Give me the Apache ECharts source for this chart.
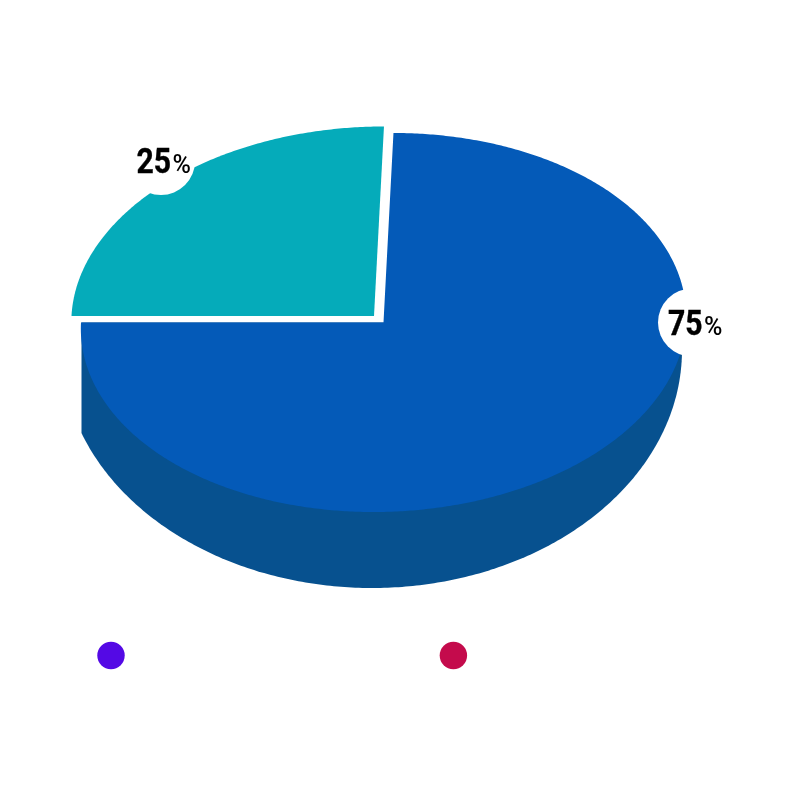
<!DOCTYPE html>
<html>
<head>
<meta charset="utf-8">
<style>html,body{margin:0;padding:0;background:#fff}#chart{width:800px;height:800px}</style>
<script src="https://cdn.jsdelivr.net/npm/echarts@6/dist/echarts.min.js"></script>
</head>
<body>
<div id="chart"></div>
<script>
// Data
const categories = ['Larger share', 'Smaller share'];
const shareValues = [75, 25];
const sliceColors = ['#045AB8', '#05ABBA'];
const legendColors = ['#5409E5', '#C40B4C'];

// Layout of the tilted disc
const TOP = { cx: 383.5, cy: 322.5, rx: 302.5, ry: 189.5, shear: 0.0526 };
const EXPLODE = [[0, 0], [-9.5, -6.5]];
const BASE = { cx: 372, cy: 350, rx: 310, ry: 238, left: 81.5, right: 682, color: '#07518F' };
const LABEL_HOLES = [{ x: 692, y: 322.5, r: 34, tx: 702.5, ty: 326 }, { x: 161, y: 161, r: 34, tx: 171, ty: 164 }];
const LEGEND_DOTS = [{ x: 111, y: 655.5, r: 13.7 }, { x: 453.4, y: 655.5, r: 13.7 }];

const total = shareValues.reduce((a, b) => a + b, 0);

function discPoint(cx, cy, deg) {
  const t = deg * Math.PI / 180;
  return [
    cx + TOP.rx * Math.sin(t) + TOP.shear * TOP.ry * Math.cos(t),
    cy - TOP.ry * Math.cos(t)
  ];
}

function basePolygon() {
  const pts = [[BASE.left, TOP.cy]];
  const a0 = -Math.asin((BASE.cx - BASE.left) / BASE.rx);
  const a1 = Math.asin(Math.min(1, (BASE.right - BASE.cx) / BASE.rx));
  for (let i = 0; i <= 240; i++) {
    const a = a0 + (a1 - a0) * i / 240;
    pts.push([BASE.cx + BASE.rx * Math.sin(a), BASE.cy + BASE.ry * Math.cos(a)]);
  }
  pts.push([TOP.cx, TOP.cy]);
  return pts;
}

function renderSlice(params, api) {
  const i = params.dataIndex;
  const value = api.value(0);
  let before = 0;
  for (let k = 0; k < i; k++) before += shareValues[k];
  const start = before / total * 360;
  const end = (before + value) / total * 360;
  const cx = TOP.cx + EXPLODE[i][0];
  const cy = TOP.cy + EXPLODE[i][1];
  const points = [[cx, cy]];
  const steps = Math.ceil(end - start) * 2;
  for (let s = 0; s <= steps; s++) {
    points.push(discPoint(cx, cy, start + (end - start) * s / steps));
  }
  const children = [];
  if (i === 0) {
    children.push({ type: 'polygon', shape: { points: basePolygon() }, style: { fill: BASE.color }, z2: 1 });
  }
  children.push({ type: 'polygon', shape: { points }, style: { fill: sliceColors[i] }, z2: 2 });
  const hole = LABEL_HOLES[i];
  children.push({ type: 'circle', shape: { cx: hole.x, cy: hole.y, r: hole.r }, style: { fill: '#fff' }, z2: 3 });
  children.push({
    type: 'text', x: hole.tx, y: hole.ty, scaleX: 0.86, z2: 4,
    style: {
      text: String(value), align: 'right', verticalAlign: 'middle',
      fontFamily: 'Roboto', fontWeight: 700, fontSize: 35, fill: '#000',
      stroke: '#000', lineWidth: 0.4
    }
  });
  children.push({
    type: 'text', x: hole.tx + 1.5, y: hole.ty + 3, z2: 4,
    style: {
      text: '%', align: 'left', verticalAlign: 'middle',
      fontFamily: 'Roboto', fontWeight: 500, fontSize: 25, fill: '#000'
    }
  });
  return { type: 'group', children };
}

const chart = echarts.init(document.getElementById('chart'));
chart.setOption({
  animation: false,
  backgroundColor: '#fff',
  series: [{
    type: 'custom',
    coordinateSystem: 'none',
    silent: true,
    renderItem: renderSlice,
    data: categories.map((name, i) => ({ name, value: [shareValues[i]] }))
  }],
  graphic: legendColors.map((color, i) => ({
    type: 'circle', silent: true,
    shape: { cx: LEGEND_DOTS[i].x, cy: LEGEND_DOTS[i].y, r: LEGEND_DOTS[i].r },
    style: { fill: color }
  }))
});
</script>
</body>
</html>
